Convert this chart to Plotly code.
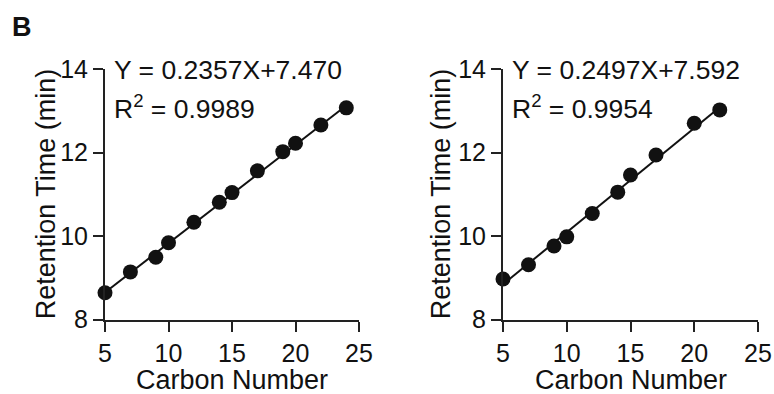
import plotly.graph_objects as go

# Data
carbon_left = [5, 7, 9, 10, 12, 14, 15, 17, 19, 20, 22, 24]
rt_left = [8.64, 9.14, 9.49, 9.84, 10.33, 10.81, 11.04, 11.56, 12.02, 12.22, 12.66, 13.07]
slope_left, intercept_left, r2_left = 0.2357, 7.470, 0.9989

carbon_right = [5, 7, 9, 10, 12, 14, 15, 17, 20, 22]
rt_right = [8.97, 9.31, 9.76, 9.98, 10.54, 11.05, 11.46, 11.94, 12.70, 13.02]
slope_right, intercept_right, r2_right = 0.2497, 7.592, 0.9954

x_ticks = [5, 10, 15, 20, 25]
y_ticks = [8, 10, 12, 14]
x_title = "Carbon Number"
y_title = "Retention Time (min)"
panel_label = "B"

FONT = "Liberation Sans, Arial, sans-serif"
INK = "#111111"
W, H = 774, 394

fig = go.Figure()

panels = [
    (carbon_left, rt_left, slope_left, intercept_left, r2_left, "x", "y"),
    (carbon_right, rt_right, slope_right, intercept_right, r2_right, "x2", "y2"),
]
for cx, ry, m, b, r2, xa, ya in panels:
    xs = [min(cx), max(cx)]
    fig.add_trace(go.Scatter(x=xs, y=[m * v + b for v in xs], mode="lines",
                             line=dict(color=INK, width=2), xaxis=xa, yaxis=ya,
                             cliponaxis=False, showlegend=False, hoverinfo="skip"))
    fig.add_trace(go.Scatter(x=cx, y=ry, mode="markers",
                             marker=dict(color=INK, size=15, line=dict(width=0)),
                             xaxis=xa, yaxis=ya, cliponaxis=False, showlegend=False))

axis_common = dict(showline=True, linecolor="#222222", linewidth=2, ticks="outside",
                   ticklen=10, tickwidth=2, tickcolor="#222222", showgrid=False,
                   zeroline=False, tickfont=dict(family=FONT, size=25, color=INK),
                   fixedrange=True, automargin=False)

left_dom = [105 / W, 359 / W]
right_dom = [503 / W, 758 / W]
y_dom = [(H - 319.5) / H, (H - 69) / H]

fig.update_layout(
    width=W, height=H, margin=dict(l=0, r=0, t=0, b=0, autoexpand=False),
    paper_bgcolor="white", plot_bgcolor="white",
    xaxis=dict(domain=left_dom, range=[5, 25], tickvals=x_ticks, anchor="y", **axis_common),
    yaxis=dict(domain=y_dom, range=[8, 14], tickvals=y_ticks, anchor="x", **axis_common),
    xaxis2=dict(domain=right_dom, range=[5, 25], tickvals=x_ticks, anchor="y2", **axis_common),
    yaxis2=dict(domain=y_dom, range=[8, 14], tickvals=y_ticks, anchor="x2", **axis_common),
)

title_font = dict(family=FONT, size=27, color=INK)
eq_font = dict(family=FONT, size=26.5, color=INK)
for (m, b, r2, dom, ytx) in [(slope_left, intercept_left, r2_left, left_dom, 46),
                             (slope_right, intercept_right, r2_right, right_dom, 441)]:
    x0 = dom[0] + 7 / W
    fig.add_annotation(text=f"Y = {m:.4f}X+{b:.3f}", x=x0, y=1 - 70 / H, xref="paper", yref="paper",
                       xanchor="left", yanchor="middle", showarrow=False, font=eq_font)
    fig.add_annotation(text=f"R<sup>2</sup> = {r2:.4f}", x=x0, y=1 - 107 / H, xref="paper", yref="paper",
                       xanchor="left", yanchor="middle", showarrow=False, font=eq_font)
    fig.add_annotation(text=x_title, x=(dom[0] + dom[1]) / 2, y=1 - 380 / H, xref="paper", yref="paper",
                       xanchor="center", yanchor="middle", showarrow=False, font=title_font)
    fig.add_annotation(text=y_title, x=ytx / W, y=(y_dom[0] + y_dom[1]) / 2, xref="paper", yref="paper",
                       xanchor="center", yanchor="middle", textangle=-90, showarrow=False, font=title_font)

fig.add_annotation(text=f"<b>{panel_label}</b>", x=10 / W, y=1 - 27 / H, xref="paper", yref="paper",
                   showarrow=False, font=dict(family=FONT, size=27, color=INK),
                   xanchor="left", yanchor="middle")

fig.write_html("out.html", config={"displayModeBar": False},
               post_script="document.body.style.margin='0';document.body.style.overflow='hidden';")
